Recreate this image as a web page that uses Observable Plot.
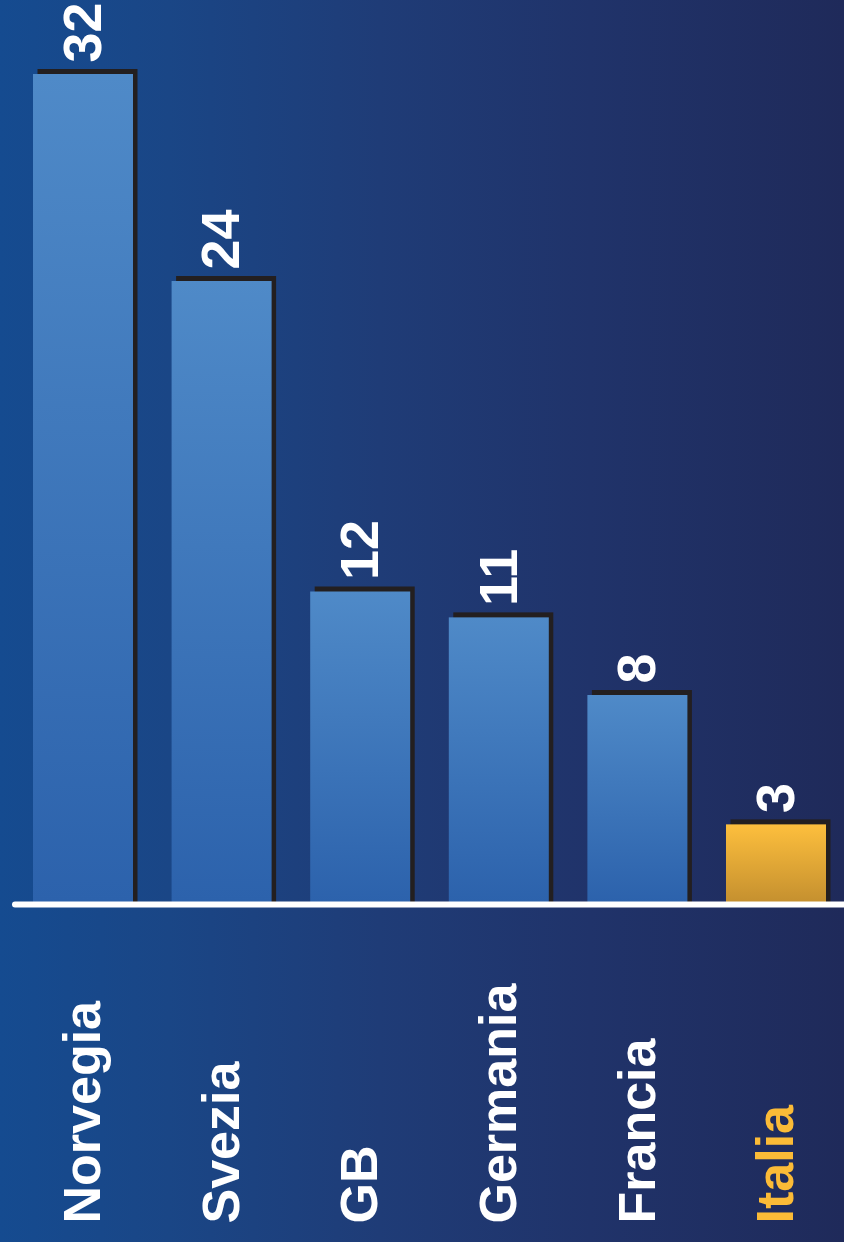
<!DOCTYPE html>
<html>
<head>
<meta charset="utf-8">
<script src="https://cdn.jsdelivr.net/npm/d3@7"></script>
<script src="https://cdn.jsdelivr.net/npm/@observablehq/plot@0.6"></script>
<style>
  html, body { margin: 0; padding: 0; }
  body { width: 844px; height: 1242px; overflow: hidden;
         background: linear-gradient(to right, #154b90 0%, #1a4686 20%, #1f3c77 45%, #20336a 70%, #1f2a5a 100%); }
</style>
</head>
<body>
<svg width="0" height="0" style="position:absolute">
  <defs>
    <linearGradient id="gBlue" x1="0" y1="0" x2="0" y2="1">
      <stop offset="0%" stop-color="#4f8ac8"/>
      <stop offset="100%" stop-color="#2c62ac"/>
    </linearGradient>
    <linearGradient id="gGold" x1="0" y1="0" x2="0" y2="1">
      <stop offset="0%" stop-color="#fdbf3d"/>
      <stop offset="100%" stop-color="#c5902f"/>
    </linearGradient>
  </defs>
</svg>
<div id="chart"></div>
<script>
const countries = ["Norvegia", "Svezia", "GB", "Germania", "Francia", "Italia"];
const values = [32, 24, 12, 11, 8, 3];
const highlight = "Italia";

const table = countries.map((c, i) => ({country: c, value: values[i]}));

const chart = Plot.plot({
  width: 844,
  height: 1242,
  marginTop: 74,
  marginBottom: 340,
  marginLeft: 0,
  marginRight: 0,
  style: {
    background: "transparent",
    fontFamily: "'Liberation Sans', Arial, sans-serif",
    overflow: "visible"
  },
  x: {domain: countries, paddingInner: 0.2785, paddingOuter: 0.184, align: 0.647, round: false, axis: null},
  y: {domain: [0, 32], axis: null},
  color: {type: "identity"},
  marks: [
    // shadow
    Plot.barY(table, {x: "country", y: "value", fill: "#231f20", dx: 4.5, dy: -5, insetBottom: -5}),
    // front bar
    Plot.barY(table, {x: "country", y: "value",
      fill: d => d.country === highlight ? "url(#gGold)" : "url(#gBlue)"}),
    // baseline
    Plot.ruleY([0], {stroke: "white", strokeWidth: 6, dy: 2, insetLeft: 15, strokeLinecap: "round"}),
    // value labels
    Plot.text(table, {x: "country", y: "value", text: d => String(d.value),
      rotate: -90, textAnchor: "start", lineAnchor: "middle", dy: -12,
      fill: "white", fontSize: 54, fontWeight: "bold"}),
    // category labels
    Plot.text(table, {x: "country", text: "country", frameAnchor: "bottom",
      rotate: -90, textAnchor: "start", lineAnchor: "middle", dy: 321,
      fill: d => d.country === highlight ? "#fbbb37" : "white",
      fontSize: 52, fontWeight: "bold"})
  ]
});
document.getElementById("chart").appendChild(chart);
</script>
</body>
</html>
